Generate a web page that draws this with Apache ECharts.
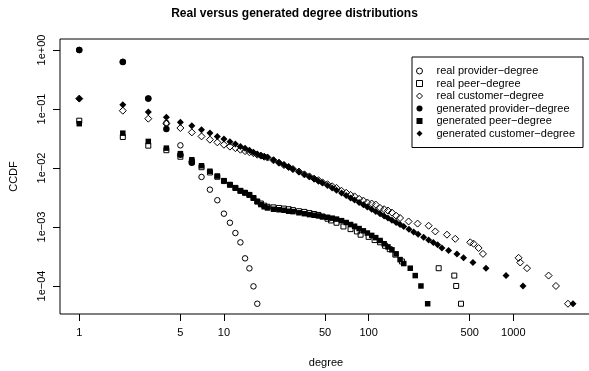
<!DOCTYPE html>
<html>
<head>
<meta charset="utf-8">
<script src="https://cdn.jsdelivr.net/npm/echarts@6/dist/echarts.min.js"></script>
<style>
  html, body { margin: 0; padding: 0; background: #fff; }
  #chart { width: 589px; height: 371px; }
</style>
</head>
<body>
<div id="chart"></div>
<script>
// tick values and labels
var xTickValues = [1, 5, 10, 50, 100, 500, 1000];
var xTickLabels = ['1', '5', '10', '50', '100', '500', '1000'];
var yTickValues = [1, 0.1, 0.01, 0.001, 0.0001];
var yTickLabels = ['1e+00', '1e\u221201', '1e\u221202', '1e\u221203', '1e\u221204'];

// real provider-degree
var realProviderDeg = [1, 2, 3, 4, 5, 6, 7, 8, 9, 10, 11, 12, 13, 14, 15, 16, 17];
var realProviderCcdf = [1, 0.63, 0.150, 0.058, 0.0242, 0.0128, 0.00704, 0.00429, 0.00284, 0.00168,
  0.00118, 0.00079, 0.000548, 0.000294, 0.000199, 0.0000985, 0.00005];

// real peer-degree
var realPeerDeg = [1, 2, 3, 4, 5, 6, 7, 8, 9, 10, 11, 12, 13, 14, 15, 16, 17, 18, 19, 20,
  22, 24, 26, 28, 30, 33, 36, 39, 42, 45, 48, 52, 55, 60, 67, 75, 83, 88, 100, 110, 120, 130, 140, 153, 170,
  305, 391, 403, 435];
var realPeerCcdf = [0.0633, 0.0335, 0.0239, 0.0200, 0.0155, 0.0128, 0.0103, 0.0084, 0.0071, 0.0060,
  0.0052, 0.0046, 0.0041, 0.0038, 0.0035, 0.0031, 0.0027, 0.0025, 0.0023, 0.0022,
  0.00215, 0.0021, 0.00205, 0.0020, 0.00193, 0.00185, 0.0018, 0.00172, 0.00166, 0.0016, 0.0015,
  0.00138, 0.00129, 0.00118, 0.00102, 0.00092, 0.00084, 0.00074, 0.00068, 0.0006, 0.00055, 0.00048, 0.00042, 0.00034, 0.00026,
  0.0002, 0.00015, 0.0001, 0.00005];

// real customer-degree
var realCustomerDeg = [1, 2, 3, 4, 5, 6, 7, 8, 9, 10, 11, 12, 13, 14, 15, 16, 17, 18, 19, 20,
  22, 24, 26, 28, 30, 33, 36, 39, 42, 45, 48, 52, 56, 60, 65, 70, 75, 80, 86, 92, 98,
  105, 112, 120, 128, 136, 145, 155, 165,
  189, 218, 260, 289, 348, 397, 504, 532, 576, 617, 1088, 1117, 1244, 1754, 1972, 2388];
var realCustomerCcdf = [0.15, 0.0936, 0.0685, 0.0563, 0.0476, 0.0401, 0.0343, 0.0302, 0.0272, 0.0248,
  0.0230, 0.0217, 0.0204, 0.0193, 0.0185, 0.0178, 0.0168, 0.0162, 0.0155, 0.0150,
  0.0135, 0.0123, 0.0112, 0.0104, 0.0096, 0.0087, 0.0078, 0.0072, 0.0066, 0.0062, 0.0057,
  0.0053, 0.0049, 0.0046, 0.0041, 0.0038, 0.0035, 0.0033, 0.0030, 0.0028, 0.0026,
  0.0025, 0.0024, 0.0021, 0.0020, 0.0019, 0.00175, 0.00155, 0.00142,
  0.00124, 0.00114, 0.00105, 0.00084, 0.00074, 0.00063, 0.00055, 0.00052, 0.00044, 0.00035,
  0.0003, 0.00025, 0.0002, 0.00015, 0.0001, 0.00005];

// generated provider-degree
var genProviderDeg = [1, 2, 3, 4, 5, 6];
var genProviderCcdf = [1, 0.626, 0.150, 0.0458, 0.0168, 0.0123];

// generated peer-degree
var genPeerDeg = [1, 2, 3, 4, 5, 6, 7, 8, 9, 10, 11, 12, 13, 14, 15, 16, 17, 18, 19, 20,
  22, 24, 26, 28, 30, 33, 36, 39, 42, 45, 48, 52, 56, 60, 65, 70, 75, 80, 86, 92, 98,
  105, 112, 120, 128, 136, 145, 155, 165, 175, 194, 210, 230, 256];
var genPeerCcdf = [0.0563, 0.0389, 0.0282, 0.0217, 0.0175, 0.0138, 0.0109, 0.0088, 0.0073, 0.0061,
  0.0052, 0.0046, 0.0041, 0.0038, 0.0035, 0.0031, 0.0027, 0.0024, 0.0022, 0.0021,
  0.0020, 0.00196, 0.00192, 0.00185, 0.00182, 0.00174, 0.00168, 0.00162, 0.00158, 0.00154, 0.0015,
  0.00146, 0.00141, 0.00136, 0.00128, 0.00119, 0.0011, 0.00103, 0.00094, 0.00086, 0.00079,
  0.00072, 0.00066, 0.00059, 0.00052, 0.00046, 0.00041, 0.00035, 0.00028, 0.00024,
  0.0002, 0.00015, 0.0001, 0.00005];

// generated customer-degree
var genCustomerDeg = [1, 2, 3, 4, 5, 6, 7, 8, 9, 10, 11, 12, 13, 14, 15, 16, 17, 18, 19, 20,
  22, 24, 26, 28, 30, 33, 36, 39, 42, 45, 48, 52, 56, 60, 65, 70, 75, 80, 86, 92, 98,
  105, 112, 120, 128, 136, 145, 155, 165, 175, 190, 205, 220, 240, 260, 280, 300,
  321, 357, 408, 453, 526, 648, 891, 1167, 2586];
var genCustomerCcdf = [0.1495, 0.1183, 0.0889, 0.0721, 0.0593, 0.0521, 0.0446, 0.0391, 0.0343, 0.0310,
  0.0279, 0.0254, 0.0232, 0.0215, 0.0199, 0.0185, 0.0173, 0.0163, 0.0157, 0.0152,
  0.0136, 0.0123, 0.0113, 0.0104, 0.0095, 0.00855, 0.00773, 0.00707, 0.00648, 0.00597, 0.00555,
  0.00507, 0.00458, 0.00419, 0.00375, 0.0034, 0.00311, 0.00286, 0.00259, 0.00238, 0.00218,
  0.0020, 0.00183, 0.00167, 0.00154, 0.00142, 0.0013, 0.00119, 0.0011, 0.00102,
  0.000914, 0.000826, 0.000752, 0.000672, 0.000604, 0.000548, 0.0005,
  0.00044, 0.0004, 0.00035, 0.0003, 0.00025, 0.0002, 0.00015, 0.0001, 0.00005];

function pairs(xs, ys) {
  var out = [];
  for (var i = 0; i < Math.min(xs.length, ys.length); i++) {
    out.push([xs[i], ys[i]]);
  }
  return out;
}

function lookup(values, labels, v) {
  for (var i = 0; i < values.length; i++) {
    if (Math.abs(Math.log10(v) - Math.log10(values[i])) < 1e-6) return labels[i];
  }
  return '';
}

var font = 'Liberation Sans, Arial, Helvetica, sans-serif';
var hollow = { color: 'rgba(0,0,0,0)', borderColor: '#000', borderWidth: 1, opacity: 1 };
var solid = { color: '#000', borderWidth: 0, opacity: 1 };

function series(name, symbol, size, style, xs, ys) {
  return {
    name: name,
    type: 'scatter',
    symbol: symbol,
    symbolSize: size,
    itemStyle: style,
    data: pairs(xs, ys),
    emphasis: { disabled: true }
  };
}

var chart = echarts.init(document.getElementById('chart'));

var option = {
  animation: false,
  backgroundColor: '#fff',
  textStyle: { fontFamily: font },
  title: {
    text: 'Real versus generated degree distributions',
    left: 'center',
    top: 8,
    padding: 0,
    textStyle: { fontFamily: font, fontSize: 12, fontWeight: 'bold', color: '#000' }
  },
  legend: {
    orient: 'vertical',
    left: 412,
    top: 57,
    padding: [8, 8, 8, 4],
    itemGap: 0.5,
    itemWidth: 6,
    itemHeight: 6,
    borderColor: '#000',
    borderWidth: 1,
    selectedMode: false,
    itemStyle: { borderWidth: 1, opacity: 1 },
    textStyle: { fontFamily: font, fontSize: 11, color: '#000', lineHeight: 12, padding: [0, 0, 0, 9] },
    data: ['real provider\u2212degree', 'real peer\u2212degree', 'real customer\u2212degree',
      'generated provider\u2212degree', 'generated peer\u2212degree', 'generated customer\u2212degree']
  },
  grid: {
    left: 60,
    top: 39,
    right: -3,
    bottom: 57,
    show: true,
    borderColor: '#000',
    borderWidth: 1,
    backgroundColor: 'rgba(0,0,0,0)',
    outerBoundsMode: 'none'
  },
  xAxis: {
    type: 'log',
    logBase: 10,
    min: 0.736,
    max: 3500,
    name: 'degree',
    nameLocation: 'middle',
    nameGap: 43,
    nameTextStyle: { fontFamily: font, fontSize: 11, color: '#000' },
    axisLine: { show: false },
    axisTick: { show: true, inside: false, length: 7, customValues: xTickValues, lineStyle: { color: '#000' } },
    axisLabel: {
      show: true,
      margin: 13,
      fontFamily: font,
      fontSize: 11,
      color: '#000',
      customValues: xTickValues,
      formatter: function (v) { return lookup(xTickValues, xTickLabels, v); }
    },
    splitLine: { show: false },
    minorTick: { show: false }
  },
  yAxis: {
    type: 'log',
    logBase: 10,
    min: 3.35e-5,
    max: 1.535,
    name: 'CCDF',
    nameLocation: 'middle',
    nameGap: 41,
    nameRotate: 90,
    nameTextStyle: { fontFamily: font, fontSize: 11, color: '#000' },
    axisLine: { show: false },
    axisTick: { show: true, inside: false, length: 7, customValues: yTickValues, lineStyle: { color: '#000' } },
    axisLabel: {
      show: true,
      rotate: 90,
      margin: 13,
      fontFamily: font,
      fontSize: 11,
      color: '#000',
      customValues: yTickValues,
      formatter: function (v) { return lookup(yTickValues, yTickLabels, v); }
    },
    splitLine: { show: false },
    minorTick: { show: false }
  },
  series: [
    series('real provider\u2212degree', 'circle', 5.5, hollow, realProviderDeg, realProviderCcdf),
    series('real peer\u2212degree', 'rect', 5, hollow, realPeerDeg, realPeerCcdf),
    series('real customer\u2212degree', 'diamond', 7, hollow, realCustomerDeg, realCustomerCcdf),
    series('generated provider\u2212degree', 'circle', 6.5, solid, genProviderDeg, genProviderCcdf),
    series('generated peer\u2212degree', 'rect', 5.5, solid, genPeerDeg, genPeerCcdf),
    series('generated customer\u2212degree', 'diamond', 7, solid, genCustomerDeg, genCustomerCcdf)
  ]
};

chart.setOption(option);
</script>
</body>
</html>
